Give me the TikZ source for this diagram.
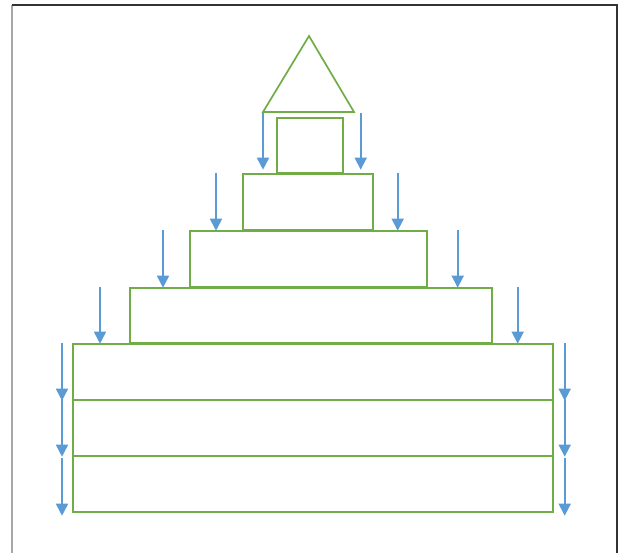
\documentclass[tikz,border=0pt]{standalone}
\usetikzlibrary{arrows.meta}
\definecolor{tiergreen}{RGB}{112,173,71}
\definecolor{dropblue}{RGB}{91,155,213}

\begin{document}
\begin{tikzpicture}[x=1pt, y=-1pt,
	tier/.style={draw=tiergreen, line width=1.7pt, inner sep=0pt, anchor=north west},
	drop/.style={dropblue, line width=1.7pt, -{Triangle[width=12pt, length=12pt]}}]
	\useasboundingbox (0,0) rectangle (621,553);
	% frame, open at the bottom
	\draw[gray!70, line width=1.2pt] (12,553) -- (12,5);
	\draw[black!80, line width=1.2pt] (12,5) -- (617,5) -- (617,553);
	% roof
	\draw[tiergreen, line width=1.7pt, line join=miter] (309,36) -- (354,112) -- (263,112) -- cycle;
	% stacked tiers
	\node[tier, minimum width=66pt, minimum height=55pt] (tier1) at (276,117) {};
	\node[tier, minimum width=130pt, minimum height=56pt] (tier2) at (242,173) {};
	\node[tier, minimum width=237pt, minimum height=56pt] (tier3) at (189,230) {};
	\node[tier, minimum width=362pt, minimum height=55pt] (tier4) at (129,287) {};
	\node[tier, minimum width=480pt, minimum height=56pt] (base1) at (72,343) {};
	\node[tier, minimum width=480pt, minimum height=56pt] (base2) at (72,399) {};
	\node[tier, minimum width=480pt, minimum height=56pt] (base3) at (72,455) {};
	% arrows beside each tier
	\foreach \t/\dl/\dr/\dy in {tier1/13/17/4, tier2/26/24/0, tier3/26/30/0, tier4/29/25/0,
		base1/10/11/0, base2/10/11/0, base3/10/11/-3} {
		\draw[drop] ([xshift=-\dl pt, yshift=\dy pt]\t.north west) -- ([xshift=-\dl pt, yshift=\dy pt]\t.south west);
		\draw[drop] ([xshift=\dr pt, yshift=\dy pt]\t.north east) -- ([xshift=\dr pt, yshift=\dy pt]\t.south east);
	}
\end{tikzpicture}
\end{document}
